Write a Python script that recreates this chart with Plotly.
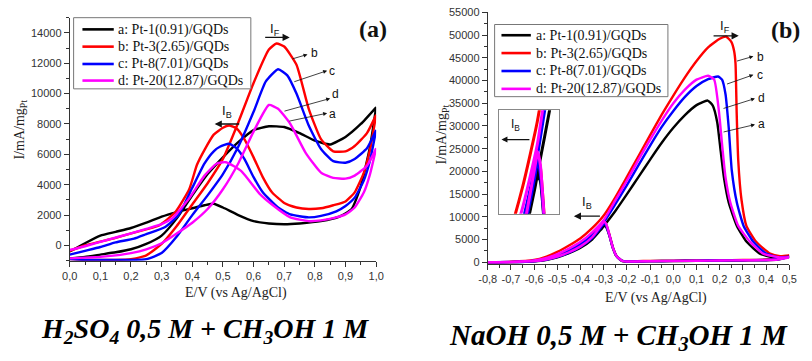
import plotly.graph_objects as go

# Cyclic voltammograms of Pt/GQDs catalysts: methanol oxidation in acid (a) and alkaline (b) media
NAMES = ["a: Pt-1(0.91)/GQDs", "b: Pt-3(2.65)/GQDs", "c: Pt-8(7.01)/GQDs", "d: Pt-20(12.87)/GQDs"]
COLORS = ["#000000", "#ff0000", "#0000ff", "#ff00ff"]

# ---- (a) H2SO4 0,5 M + CH3OH 1 M : potential (V) and current (mA/mg Pt) ----
A_FWD_E = [0.00, 0.05, 0.10, 0.15, 0.20, 0.25, 0.30, 0.35, 0.40, 0.45, 0.50, 0.55, 0.60, 0.65, 0.70, 0.75, 0.80, 0.85, 0.90, 0.95, 1.00]
A_FWD_I = [-850, -750, -600, -450, -250, 100, 650, 1800, 3300, 4700, 5800, 6800, 7600, 7850, 7800, 7400, 6900, 6650, 7150, 8000, 9100]
A_REV_E = [1.00, 0.98, 0.95, 0.92, 0.88, 0.82, 0.75, 0.70, 0.65, 0.60, 0.55, 0.50, 0.47, 0.44, 0.40, 0.35, 0.30, 0.25, 0.20, 0.15, 0.10, 0.05, 0.00]
A_REV_I = [9100, 6500, 3900, 2400, 1900, 1600, 1450, 1400, 1450, 1600, 2000, 2500, 2750, 2650, 2450, 2200, 1900, 1500, 1150, 900, 650, 150, -400]

B_FWD_E = [0.00, 0.05, 0.10, 0.15, 0.20, 0.25, 0.30, 0.35, 0.40, 0.45, 0.50, 0.55, 0.60, 0.65, 0.675, 0.70, 0.74, 0.78, 0.82, 0.86, 0.90, 0.93, 0.97, 1.00]
B_FWD_I = [-900, -950, -950, -950, -900, -650, 100, 1300, 2700, 4100, 5700, 8100, 10700, 12900, 13300, 13100, 11900, 9000, 7000, 6200, 6200, 6550, 7400, 8600]
B_REV_E = [1.00, 0.98, 0.96, 0.93, 0.90, 0.86, 0.82, 0.78, 0.74, 0.70, 0.66, 0.63, 0.60, 0.57, 0.545, 0.52, 0.50, 0.47, 0.44, 0.415, 0.39, 0.345, 0.29, 0.21, 0.15, 0.10, 0.05, 0.00]
B_REV_I = [8600, 6300, 4800, 3500, 2900, 2650, 2450, 2400, 2500, 2800, 3500, 4500, 5800, 7000, 7700, 7900, 7750, 7300, 6300, 5300, 3700, 2200, 1300, 850, 500, 250, 0, -350]

C_FWD_E = [0.00, 0.05, 0.10, 0.15, 0.20, 0.25, 0.30, 0.35, 0.40, 0.45, 0.50, 0.55, 0.60, 0.64, 0.68, 0.71, 0.74, 0.78, 0.82, 0.86, 0.90, 0.93, 0.97, 1.00]
C_FWD_I = [-900, -950, -950, -950, -950, -900, -500, 600, 2000, 3300, 4700, 6500, 8800, 10800, 11600, 11200, 10000, 7900, 6350, 5550, 5450, 5700, 6400, 7600]
C_REV_E = [1.00, 0.98, 0.96, 0.93, 0.90, 0.87, 0.82, 0.78, 0.72, 0.68, 0.63, 0.60, 0.57, 0.545, 0.52, 0.49, 0.47, 0.44, 0.40, 0.355, 0.31, 0.25, 0.21, 0.15, 0.10, 0.05, 0.00]
C_REV_I = [7600, 5600, 4300, 3150, 2600, 2250, 1950, 1850, 2050, 2500, 3500, 4500, 5700, 6400, 6700, 6500, 6200, 5400, 3800, 2000, 1200, 750, 450, 200, -100, -350, -600]

D_FWD_E = [0.00, 0.05, 0.10, 0.15, 0.20, 0.25, 0.30, 0.35, 0.40, 0.45, 0.50, 0.55, 0.60, 0.65, 0.68, 0.72, 0.77, 0.82, 0.86, 0.90, 0.93, 0.97, 1.00]
D_FWD_I = [-850, -800, -750, -650, -500, -250, 150, 800, 1500, 2400, 3700, 5400, 7500, 9250, 9000, 8000, 6100, 4800, 4450, 4400, 4600, 5250, 6400]
D_REV_E = [1.00, 0.98, 0.96, 0.93, 0.90, 0.87, 0.82, 0.78, 0.72, 0.66, 0.62, 0.56, 0.51, 0.48, 0.44, 0.39, 0.335, 0.30, 0.25, 0.20, 0.12, 0.05, 0.00]
D_REV_I = [6400, 4700, 3500, 2500, 2050, 1850, 1650, 1600, 1850, 2700, 3400, 4900, 5480, 5400, 4600, 3100, 1800, 1400, 1100, 800, 350, -50, -300]

# ---- (b) NaOH 0,5 M + CH3OH 1 M ----
NA_FWD_E = [-0.80, -0.70, -0.60, -0.55, -0.50, -0.45, -0.40, -0.35, -0.30, -0.25, -0.20, -0.15, -0.10, -0.05, 0.00, 0.05, 0.10, 0.148, 0.17, 0.189, 0.204, 0.218, 0.239, 0.274, 0.316, 0.373, 0.43, 0.50]
NA_FWD_I = [0, 30, 250, 550, 1200, 2200, 3400, 5200, 8000, 11300, 15000, 18800, 22600, 26300, 29600, 32400, 34600, 35600, 34500, 30900, 24500, 18700, 13100, 8000, 4500, 1900, 1100, 1200]

NB_FWD_E = [-0.80, -0.70, -0.60, -0.55, -0.50, -0.45, -0.40, -0.35, -0.30, -0.25, -0.20, -0.15, -0.10, -0.05, 0.00, 0.05, 0.10, 0.15, 0.20, 0.228, 0.25, 0.262, 0.268, 0.273, 0.28, 0.294, 0.315, 0.357, 0.417, 0.46, 0.50]
NB_FWD_I = [0, 100, 500, 1200, 2300, 3700, 5300, 7500, 10300, 14300, 18800, 23400, 28000, 32500, 36700, 40700, 44300, 47300, 49200, 49650, 48500, 46500, 43800, 33000, 22300, 13700, 8000, 4500, 1900, 1350, 1500]

NC_FWD_E = [-0.80, -0.70, -0.60, -0.55, -0.50, -0.45, -0.40, -0.35, -0.30, -0.25, -0.20, -0.15, -0.10, -0.05, 0.00, 0.05, 0.10, 0.15, 0.193, 0.21, 0.225, 0.239, 0.252, 0.274, 0.303, 0.345, 0.40, 0.45, 0.50]
NC_FWD_I = [0, 50, 350, 800, 1600, 2700, 4000, 6000, 8800, 12800, 17000, 21400, 25700, 29800, 33300, 36400, 38800, 40300, 40900, 40200, 37000, 29500, 20200, 13100, 8000, 4500, 1900, 1100, 1200]

ND_FWD_E = [-0.80, -0.70, -0.60, -0.55, -0.50, -0.45, -0.40, -0.35, -0.30, -0.25, -0.20, -0.15, -0.10, -0.05, 0.00, 0.05, 0.10, 0.15, 0.176, 0.197, 0.21, 0.225, 0.246, 0.28, 0.331, 0.387, 0.458, 0.50]
ND_FWD_I = [0, 80, 400, 900, 1800, 3000, 4500, 6600, 9300, 13600, 18000, 22600, 27000, 31200, 35000, 38000, 40200, 41050, 40200, 33000, 26000, 18700, 13100, 8000, 4500, 1900, 1070, 1100]

# backward scan (0.5 V -> -0.8 V), shared potential grid
N_REV_E = [0.50, 0.45, 0.40, 0.30, 0.20, 0.10, 0.00, -0.10, -0.20, -0.22, -0.245, -0.26, -0.276, -0.289, -0.298, -0.31, -0.35, -0.40, -0.45, -0.50, -0.55, -0.60, -0.70, -0.80]
NA_REV_I = [1200, 600, 450, 400, 350, 300, 250, 200, 150, 250, 1300, 3000, 5900, 7700, 8000, 7300, 5000, 3200, 2000, 1100, 500, 220, 30, 0]
NB_REV_I = [1500, 800, 600, 500, 450, 400, 350, 300, 200, 300, 1400, 3200, 6200, 8300, 8800, 8000, 5700, 3700, 2300, 1300, 600, 250, 50, 0]
NC_REV_I = [1200, 650, 500, 450, 400, 350, 300, 250, 180, 280, 1350, 3100, 6000, 8000, 8600, 7800, 5300, 3400, 2100, 1200, 550, 230, 40, 0]
ND_REV_I = [1100, 600, 480, 430, 380, 330, 280, 230, 170, 280, 1350, 3100, 6100, 8400, 9000, 8200, 5500, 3500, 2200, 1250, 580, 240, 45, 0]

ACID_X_TICKS = [0.0, 0.1, 0.2, 0.3, 0.4, 0.5, 0.6, 0.7, 0.8, 0.9, 1.0]
ACID_X_LABELS = ["0,0", "0,1", "0,2", "0,3", "0,4", "0,5", "0,6", "0,7", "0,8", "0,9", "1,0"]
BASE_X_TICKS = [-0.8, -0.7, -0.6, -0.5, -0.4, -0.3, -0.2, -0.1, 0.0, 0.1, 0.2, 0.3, 0.4, 0.5]
BASE_X_LABELS = ["-0,8", "-0,7", "-0,6", "-0,5", "-0,4", "-0,3", "-0,2", "-0,1", "0,0", "0,1", "0,2", "0,3", "0,4", "0,5"]

W, H = 812, 361
SERIF = "Liberation Serif"
SANS = "Liberation Sans"

acid = [(A_FWD_E, A_FWD_I, A_REV_E, A_REV_I),
        (B_FWD_E, B_FWD_I, B_REV_E, B_REV_I),
        (C_FWD_E, C_FWD_I, C_REV_E, C_REV_I),
        (D_FWD_E, D_FWD_I, D_REV_E, D_REV_I)]
base = [(NA_FWD_E, NA_FWD_I, NA_REV_I),
        (NB_FWD_E, NB_FWD_I, NB_REV_I),
        (NC_FWD_E, NC_FWD_I, NC_REV_I),
        (ND_FWD_E, ND_FWD_I, ND_REV_I)]

fig = go.Figure()

for k, (ef, jf, er, jr) in enumerate(acid):
    fig.add_trace(go.Scatter(
        x=ef + er, y=jf + jr, mode="lines", name=NAMES[k], showlegend=False,
        line=dict(color=COLORS[k], width=2.4, shape="spline", smoothing=0.5),
        xaxis="x", yaxis="y"))

for k, (ef, jf, jr) in enumerate(base):
    fig.add_trace(go.Scatter(
        x=ef + N_REV_E, y=jf + jr, mode="lines", name=NAMES[k], showlegend=False,
        line=dict(color=COLORS[k], width=2.4, shape="spline", smoothing=0.5),
        xaxis="x2", yaxis="y2"))

# magnified view of the backward-scan peak
for k, (ef, jf, jr) in enumerate(base):
    fig.add_trace(go.Scatter(
        x=ef + N_REV_E, y=jf + jr, mode="lines", name=NAMES[k], showlegend=False,
        line=dict(color=COLORS[k], width=3, shape="spline", smoothing=0.5),
        xaxis="x3", yaxis="y3"))


def px_x(p):
    return p / W


def px_y(p):
    return 1 - p / H


axis_style = dict(showline=True, linecolor="#333", linewidth=1, ticks="outside", ticklen=5,
                  tickwidth=1, tickcolor="#333", showgrid=False, zeroline=False,
                  tickfont=dict(family=SANS, size=11, color="#333"))

fig.update_layout(
    width=W, height=H, margin=dict(l=0, r=0, t=0, b=0),
    paper_bgcolor="white", plot_bgcolor="white", showlegend=False,
    xaxis=dict(domain=[px_x(62), px_x(375)], range=[0, 1.0], anchor="y",
               tickmode="array", tickvals=ACID_X_TICKS, ticktext=ACID_X_LABELS,
               minor=dict(tickmode="linear", tick0=0, dtick=0.05, ticks="outside", ticklen=3, tickcolor="#333"),
               **axis_style),
    yaxis=dict(domain=[px_y(262.2), px_y(13)], range=[-1000, 15000], anchor="x",
               tick0=0, dtick=2000, tickformat="d",
               minor=dict(tick0=0, dtick=1000, ticks="outside", ticklen=3, tickcolor="#333"),
               **axis_style),
    xaxis2=dict(domain=[px_x(489), px_x(797)], range=[-0.8, 0.5], anchor="y2",
                tickmode="array", tickvals=BASE_X_TICKS, ticktext=BASE_X_LABELS,
                minor=dict(tickmode="linear", tick0=0, dtick=0.05, ticks="outside", ticklen=3, tickcolor="#333"),
                **axis_style),
    yaxis2=dict(domain=[px_y(265.7), px_y(6.7)], range=[-400, 55200], anchor="x2",
                tick0=0, dtick=5000, tickformat="d",
                minor=dict(tick0=0, dtick=2500, ticks="outside", ticklen=3, tickcolor="#333"),
                **axis_style),
    xaxis3=dict(domain=[px_x(500), px_x(562)], range=[-0.434, -0.224], anchor="y3",
                showline=True, mirror=True, linecolor="#888", linewidth=1,
                showticklabels=False, ticks="", showgrid=False, zeroline=False),
    yaxis3=dict(domain=[px_y(214), px_y(108)], range=[6300, 10800], anchor="x3",
                showline=True, mirror=True, linecolor="#888", linewidth=1,
                showticklabels=False, ticks="", showgrid=False, zeroline=False),
)

ann = []
shapes = []


def arrow(xr, yr, head, tail, width=1.0, size=1.0):
    ann.append(dict(xref=xr, yref=yr, axref=xr, ayref=yr, x=head[0], y=head[1],
                    ax=tail[0], ay=tail[1], text="", showarrow=True, arrowhead=2,
                    arrowsize=size, arrowwidth=width, arrowcolor="#111"))


def label(xr, yr, x, y, text, size=12, family=SANS):
    ann.append(dict(xref=xr, yref=yr, x=x, y=y, text=text, showarrow=False,
                    xanchor="center", yanchor="middle",
                    font=dict(family=family, size=size, color="#111")))


def key_box(left, top, right, bottom, rows, line_from, line_to, text_at):
    """Framed key: a coloured line sample and a name per row (pixel positions)."""
    shapes.append(dict(type="rect", xref="paper", yref="paper", layer="above",
                       x0=px_x(left), x1=px_x(right), y0=px_y(bottom), y1=px_y(top),
                       line=dict(color="#777", width=1), fillcolor="white"))
    for k, row in enumerate(rows):
        shapes.append(dict(type="line", xref="paper", yref="paper", layer="above",
                           x0=px_x(line_from), x1=px_x(line_to), y0=px_y(row), y1=px_y(row),
                           line=dict(color=COLORS[k], width=2.6)))
        ann.append(dict(xref="paper", yref="paper", x=px_x(text_at), y=px_y(row + 0.5),
                        text=NAMES[k], showarrow=False, xanchor="left", yanchor="middle",
                        font=dict(family=SERIF, size=14, color="#111")))


key_box(66, 13, 247, 86, [25, 42.7, 60.5, 77.5], 75, 107, 109)
key_box(496, 20, 673, 94, [31, 49.3, 67.7, 86], 503, 533, 536)

# (a) peak markers and curve labels
arrow("x", "y", (0.718, 13700), (0.633, 13700), 1.3, 1.1)
label("x", "y", 0.671, 14240, "I<sub>F</sub>", 13)
arrow("x", "y", (0.473, 8000), (0.558, 8000), 1.3, 1.1)
label("x", "y", 0.514, 8820, "I<sub>B</sub>", 13)
arrow("x", "y", (0.776, 12580), (0.722, 12260), 0.8, 1)
label("x", "y", 0.80, 12690, "b")
arrow("x", "y", (0.840, 11510), (0.728, 10750), 0.8, 1)
label("x", "y", 0.856, 11465, "c")
arrow("x", "y", (0.850, 9680), (0.696, 8820), 0.8, 1)
label("x", "y", 0.866, 9980, "d")
arrow("x", "y", (0.840, 8710), (0.712, 8170), 0.8, 1)
label("x", "y", 0.859, 8630, "a")

# (b) peak markers and curve labels
arrow("x2", "y2", (0.282, 49850), (0.167, 49850), 1.3, 1.1)
label("x2", "y2", 0.222, 51930, "I<sub>F</sub>", 13)
arrow("x2", "y2", (-0.429, 10150), (-0.31, 10150), 1.3, 1.1)
label("x2", "y2", -0.373, 13090, "I<sub>B</sub>", 13)
arrow("x2", "y2", (0.345, 45340), (0.268, 44200), 0.8, 1)
label("x2", "y2", 0.374, 45280, "b")
arrow("x2", "y2", (0.345, 41270), (0.225, 39120), 0.8, 1)
label("x2", "y2", 0.374, 41270, "c")
arrow("x2", "y2", (0.352, 36050), (0.21, 33760), 0.8, 1)
label("x2", "y2", 0.379, 36270, "d")
arrow("x2", "y2", (0.352, 30320), (0.21, 28600), 0.8, 1)
label("x2", "y2", 0.379, 30540, "a")

# inset marker
arrow("x3", "y3", (-0.424, 9526), (-0.322, 9526), 1.2, 1.0)
label("x3", "y3", -0.376, 10150, "I<sub>B</sub>", 12)

# axis titles, panel tags and electrolyte captions
paper = dict(xref="paper", yref="paper", showarrow=False, xanchor="center", yanchor="middle")
ann += [
    dict(x=px_x(232), y=px_y(295), text="E/V (vs Ag/AgCl)", font=dict(family=SERIF, size=14, color="#222"), **paper),
    dict(x=px_x(661), y=px_y(300), text="E/V (vs Ag/AgCl)", font=dict(family=SERIF, size=14, color="#222"), **paper),
    dict(x=px_x(12), y=px_y(128), text="I/mA/mg<sub>Pt</sub>", textangle=-90, font=dict(family=SERIF, size=14, color="#222"), **paper),
    dict(x=px_x(443), y=px_y(133), text="I/mA/mg<sub>Pt</sub>", textangle=-90, font=dict(family=SERIF, size=14, color="#222"), **paper),
    dict(x=px_x(372), y=px_y(25), text="<b>(a)</b>", font=dict(family=SERIF, size=24, color="#111"), **paper),
    dict(x=px_x(793), y=px_y(26), text="<b>(b)</b>", font=dict(family=SERIF, size=24, color="#111"), **paper),
    dict(x=px_x(200), y=px_y(334), text="<b><i>H<sub>2</sub>SO<sub>4</sub> 0,5 M + CH<sub>3</sub>OH 1 M</i></b>",
         font=dict(family=SERIF, size=28, color="black"), **paper),
    dict(x=px_x(623), y=px_y(340), text="<b><i>NaOH 0,5 M + CH<sub>3</sub>OH 1 M</i></b>",
         font=dict(family=SERIF, size=29, color="black"), **paper),
]
fig.update_layout(annotations=ann, shapes=shapes)

fig.write_html("out.html")
